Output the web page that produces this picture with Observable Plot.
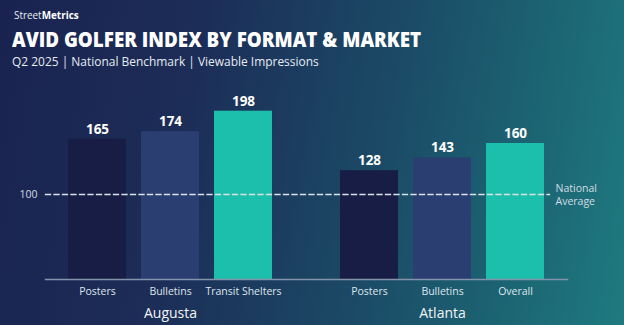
<!DOCTYPE html>
<html><head><meta charset="utf-8">
<script src="https://cdn.jsdelivr.net/npm/d3@7"></script>
<script src="https://cdn.jsdelivr.net/npm/@observablehq/plot@0.6"></script>
<style>
html,body{margin:0;padding:0;}
body{width:624px;height:325px;overflow:hidden;background:linear-gradient(100deg,#1a2350 0%,#1c2d57 30%,#1b4a66 60%,#1c6875 85%,#1f7a80 100%);font-family:"Open Sans",sans-serif;color:#fff;position:relative}
#head{position:relative;height:75px}
.h{position:absolute;white-space:nowrap;transform-origin:0 0;line-height:1}
.brand{left:14px;top:9px;font-size:11px;color:#e8eef4;transform:scaleX(0.9)}
.brand b{font-weight:700;color:#fff}
.title{left:12px;top:28.5px;font-size:20.5px;font-weight:800;transform:scaleX(0.917)}
.sub{left:12px;top:54.5px;font-size:13.5px;color:#e6ecf2;transform:scaleX(0.885)}
#chart svg{display:block}
</style></head>
<body>
<div id="head">
<div class="h brand">Street<b>Metrics</b></div>
<div class="h title">AVID GOLFER INDEX BY FORMAT &amp; MARKET</div>
<div class="h sub">Q2 2025 | National Benchmark | Viewable Impressions</div>
</div>
<div id="chart"></div>
<script>
const markets = ["Augusta","Augusta","Augusta","Atlanta","Atlanta","Atlanta"];
const formats = ["Posters","Bulletins","Transit Shelters","Posters","Bulletins","Overall"];
const values = [165,174,198,128,143,160];
const marketOrder = ["Augusta","Atlanta"];
const formatKinds = ["Posters","Bulletins","Transit Shelters","Overall"];
const benchmark = 100;
const yDomain = [0, 200];
const yTicks = [100];
const refLabel = "National\nAverage";

const data = values.map((v,i)=>({
  market:markets[i], format:formats[i], value:v,
  slot:String(markets.slice(0,i).filter(m=>m===markets[i]).length)
}));
const slots = Array.from(new Set(data.map(d=>d.slot)));

const W = 624, H = 250, mL = 45, mR = 57, mT = 34, mB = 46;
// library scale to find the benchmark's offset from the baseline
const yScale = Plot.scale({y:{domain:yDomain, range:[H - mB, mT]}});
const benchInset = yScale.apply(0) - yScale.apply(benchmark);

const chart = Plot.plot({
  width:W, height:H,
  marginLeft:mL, marginRight:mR, marginTop:mT, marginBottom:mB,
  style:{background:"transparent", color:"#fff", fontFamily:"Open Sans, sans-serif", overflow:"visible"},
  fx:{domain:marketOrder, paddingInner:0.081, paddingOuter:0, axis:null, label:null},
  x:{domain:slots, paddingInner:0.212, paddingOuter:0.318, axis:null},
  y:{domain:yDomain, axis:null},
  color:{domain:formatKinds, range:["#171d45","#2a3e72","#1cbfab","#1cbfab"]},
  marks:[
    Plot.barY(data,{fx:"market", x:"slot", y:"value", fill:"format"}),
    Plot.frame({facet:"super", anchor:"bottom", stroke:"#8294ab", strokeWidth:1.5}),
    Plot.frame({facet:"super", anchor:"bottom", insetBottom:benchInset, insetRight:18, stroke:"#d9e1ea", strokeWidth:1.3, strokeDasharray:"5,3.5"}),
    Plot.axisY(yTicks,{anchor:"left", tickSize:0, tickPadding:8, fontSize:10.5, fill:"#d4dbe3", label:null}),
    Plot.text(data,{fx:"market", x:"slot", y:"value", text:d=>String(d.value), dy:-10, fontSize:13.5, fontWeight:700, fill:"#fff"}),
    Plot.text(data,{fx:"market", x:"slot", text:"format", frameAnchor:"bottom", dy:15, fontSize:10.5, fill:"#dfe5ec"}),
    Plot.text(marketOrder,{fx:d=>d, text:d=>d, frameAnchor:"bottom", dy:38, fontSize:14, fill:"#f2f5f8"}),
    Plot.text([refLabel],{fx:()=>marketOrder[marketOrder.length-1], y:()=>benchmark, text:d=>d, frameAnchor:"right", textAnchor:"start", dx:-12, lineHeight:1.25, fontSize:10.5, fill:"#d4dbe3"})
  ]
});
document.getElementById("chart").appendChild(chart);
</script>
</body></html>
